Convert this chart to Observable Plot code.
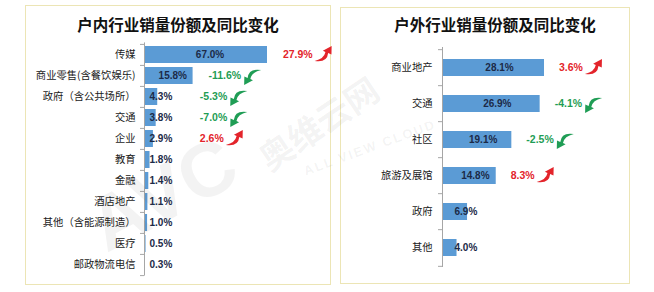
<!DOCTYPE html>
<html>
<head>
<meta charset="utf-8">
<script src="https://cdn.jsdelivr.net/npm/d3@7"></script>
<script src="https://cdn.jsdelivr.net/npm/@observablehq/plot@0.6"></script>
<style>
  html, body { margin: 0; padding: 0; background: #fff; }
  #wrap { position: relative; width: 654px; height: 292px; overflow: hidden; font-family: "Noto Sans CJK SC", "DejaVu Sans", sans-serif; }
  .panel { position: absolute; border: 1px solid #ece5b5; box-sizing: border-box; background: #fff; }
  .title { position: absolute; font-weight: 700; font-size: 15.5px; color: #111; white-space: nowrap; transform: translate(-50%, -50%); line-height: 1; }
  .chart { position: absolute; }
  .wm { position: absolute; white-space: nowrap; color: rgba(90,90,90,0.07); font-weight: 700; transform-origin: center; pointer-events: none; }
</style>
</head>
<body>
<div id="wrap">
  <div class="panel" style="left:25px;top:5px;width:306px;height:280px;"></div>
  <div class="panel" style="left:340px;top:7px;width:290px;height:277px;"></div>
  <div class="title" style="left:178px;top:25px;">户内行业销量份额及同比变化</div>
  <div class="title" style="left:495px;top:25px;">户外行业销量份额及同比变化</div>
  <div class="chart" id="left" style="left:25px;top:38px;"></div>
  <div class="chart" id="right" style="left:340px;top:40px;"></div>
  <div class="wm" style="left:85px;top:150px;font-family:'Liberation Sans';font-size:76px;transform:rotate(-28deg);">AVC</div>
  <div class="wm" style="left:250px;top:98px;font-size:34px;transform:rotate(-34deg);">奥维云网</div>
  <div class="wm" style="left:300px;top:140px;font-family:'Liberation Sans';font-size:13px;letter-spacing:2px;transform:rotate(-20deg);">ALL VIEW CLOUD</div>
</div>
<script>
// ---- data ----
const indoorCats = ["传媒", "商业零售(含餐饮娱乐)", "政府（含公共场所）", "交通", "企业", "教育", "金融", "酒店地产", "其他（含能源制造）", "医疗", "邮政物流电信"];
const indoorShare = [67.0, 15.8, 4.3, 3.8, 2.9, 1.8, 1.4, 1.1, 1.0, 0.5, 0.3];
const indoorChange = [27.9, -11.6, -5.3, -7.0, 2.6, null, null, null, null, null, null];

const outdoorCats = ["商业地产", "交通", "社区", "旅游及展馆", "政府", "其他"];
const outdoorShare = [28.1, 26.9, 19.1, 14.8, 6.9, 4.0];
const outdoorChange = [3.6, -4.1, -2.5, 8.3, null, null];

// ---- styles ----
const BAR = "#5b9bd5";
const AXIS = "#a6a6a6";
const RED = "#e3242b";
const GREEN = "#1f9d55";
const VALUE = "#1b2a47";
const NUMFONT = "'Liberation Sans', Arial, sans-serif";
const CJK = "'Noto Sans CJK SC', sans-serif";

const ctx = document.createElement("canvas").getContext("2d");
ctx.font = "bold 10.5px 'Liberation Sans'";
const textW = s => ctx.measureText(s).width;

function arrowSymbol(flip) {
  return {
    draw(c, size) {
      const s = Math.sqrt(size / Math.PI) / 8;
      const k = flip ? -s : s;
      const P = (x, y) => [x * k, y * k];
      c.moveTo(...P(-9, 6));
      c.quadraticCurveTo(...P(3.5, 8), ...P(4.5, -2));
      c.lineTo(...P(7.8, -0.6));
      c.lineTo(...P(8, -9));
      c.lineTo(...P(-0.8, -4.2));
      c.lineTo(...P(1.8, -3));
      c.quadraticCurveTo(...P(0.5, 3.8), ...P(-9, 6));
      c.closePath();
    }
  };
}

function panel(o) {
  const {cats, shares, changes, width, height, mL, mR, mT, mB, xMax, pI, pO, padLabel, bigDx, smallDx, changeX} = o;
  const data = cats.map((c, i) => ({cat: c, share: shares[i], change: changes[i]}));
  const ppu = (width - mL - mR) / xMax;
  const n = cats.length;
  const step = (height - mT - mB) / (n - pI + 2 * pO);
  const fmt = v => v.toFixed(1) + "%";
  const withC = data.filter(d => d.change != null);
  const ups = withC.filter(d => d.change > 0);
  const downs = withC.filter(d => d.change < 0);
  const arrowX = d => changeX(d) + (textW(fmt(d.change)) + 11) / ppu;
  const vis = d => Math.min(d.share, xMax);
  const tick = 4 / ppu;
  return Plot.plot({
    width, height,
    marginLeft: mL, marginRight: mR, marginTop: mT, marginBottom: mB,
    x: {domain: [0, xMax], axis: null},
    y: {domain: cats, paddingInner: pI, paddingOuter: pO, tickSize: 0, tickPadding: padLabel, label: null},
    style: {fontFamily: CJK, fontSize: "10.3px", color: "#1a1a1a", background: "transparent", overflow: "visible"},
    marks: [
      Plot.barX(data, {y: "cat", x1: 0, x2: vis, fill: BAR}),
      Plot.ruleX([0], {stroke: AXIS}),
      Plot.ruleY(cats, {y: d => d, x1: -tick, x2: 0, dy: -step / 2, stroke: AXIS}),
      Plot.ruleY([cats[n - 1]], {y: d => d, x1: -tick, x2: 0, dy: step / 2, stroke: AXIS}),
      Plot.text(data.filter(d => d.share >= 10), {x: d => vis(d) / 2, y: "cat", text: d => fmt(d.share), dx: bigDx, fill: VALUE, fontFamily: NUMFONT, fontWeight: "bold", fontSize: 10}),
      Plot.text(data.filter(d => d.share < 10), {x: 0, y: "cat", text: d => fmt(d.share), dx: smallDx, textAnchor: "start", fill: VALUE, fontFamily: NUMFONT, fontWeight: "bold", fontSize: 10}),
      Plot.text(ups, {x: changeX, y: "cat", text: d => fmt(d.change), textAnchor: "start", fill: RED, fontFamily: NUMFONT, fontWeight: "bold", fontSize: 10.5}),
      Plot.text(downs, {x: changeX, y: "cat", text: d => fmt(d.change), textAnchor: "start", fill: GREEN, fontFamily: NUMFONT, fontWeight: "bold", fontSize: 10.5}),
      Plot.dot(ups, {x: arrowX, y: "cat", r: 8, symbol: arrowSymbol(false), fill: RED, stroke: "none"}),
      Plot.dot(downs, {x: arrowX, y: "cat", r: 8, symbol: arrowSymbol(true), fill: GREEN, stroke: "none"})
    ]
  });
}

document.getElementById("left").append(panel({
  cats: indoorCats, shares: indoorShare, changes: indoorChange,
  width: 305, height: 245, mL: 119, mR: 63, mT: 4.4, mB: 7.4, xMax: 40,
  pI: 0.2, pO: 0.1, padLabel: 9, bigDx: 4, smallDx: 5,
  changeX: d => Math.max(Math.min(d.share, 40) + 5, 18)
}));

document.getElementById("right").append(panel({
  cats: outdoorCats, shares: outdoorShare, changes: outdoorChange,
  width: 290, height: 240, mL: 102, mR: 6.5, mT: 7, mB: 13, xMax: 50,
  pI: 0.54, pO: 0.27, padLabel: 10, bigDx: 6, smallDx: 12,
  changeX: d => d.share + 4
}));
</script>
</body>
</html>
